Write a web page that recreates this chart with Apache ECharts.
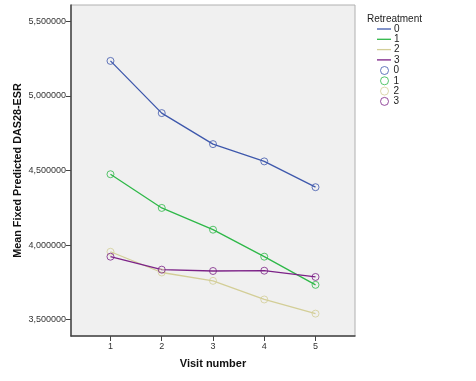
<!DOCTYPE html>
<html><head><meta charset="utf-8">
<script src="https://cdn.jsdelivr.net/npm/echarts@6/dist/echarts.min.js"></script>
<style>html,body{margin:0;padding:0;background:#fff}#c{width:476px;height:381px}</style>
</head><body><div id="c"></div>
<script>
const visits = [1, 2, 3, 4, 5];
const groups = ['0', '1', '2', '3'];
const r0 = [5.235, 4.885, 4.677, 4.561, 4.388];
const r1 = [4.475, 4.249, 4.103, 3.922, 3.733];
const r2 = [3.955, 3.816, 3.760, 3.635, 3.540];
const r3 = [3.922, 3.835, 3.826, 3.828, 3.786];
const yTicks = [3.5, 4.0, 4.5, 5.0, 5.5];
const colors = ['#3e58ac', '#2eb848', '#d3ce97', '#7c2287'];
const values = [r0, r1, r2, r3];
const font = 'Liberation Sans, Arial, sans-serif';

const series = [];
groups.forEach((g, i) => {
  series.push({
    name: g, type: 'line', symbol: 'none',
    data: visits.map((v, k) => [v, values[i][k]]),
    lineStyle: {color: colors[i], width: 1.3},
    itemStyle: {color: colors[i]},
    z: 2
  });
});
groups.forEach((g, i) => {
  series.push({
    name: g + ' ', type: 'scatter', symbol: 'circle', symbolSize: 7,
    data: visits.map((v, k) => [v, values[i][k]]),
    itemStyle: {color: 'rgba(0,0,0,0)', borderColor: colors[i], borderWidth: 1},
    z: 3
  });
});

const legendText = {fontSize: 10, color: '#222', lineHeight: 10, padding: [0, 0, 0, -2]};
const chart = echarts.init(document.getElementById('c'));
chart.setOption({
  animation: false,
  backgroundColor: '#fff',
  textStyle: {fontFamily: font},
  grid: {left: 71, right: 121, top: 5, bottom: 45, show: true,
         backgroundColor: '#f0f0f0', borderColor: '#b0b0b0', borderWidth: 1},
  title: {text: 'Retreatment', left: 362, top: 9,
          textStyle: {fontSize: 10, fontWeight: 'normal', color: '#222', fontFamily: font}},
  legend: [
    {data: groups.map((g, i) => ({name: g, icon: 'rect', itemStyle: {color: colors[i]}})),
     orient: 'vertical', left: 377, top: 24, itemWidth: 14, itemHeight: 1.3,
     itemGap: 0.3, textStyle: legendText, padding: 0},
    {data: groups.map((g, i) => ({name: g + ' ', icon: 'circle',
       itemStyle: {color: 'rgba(0,0,0,0)', borderColor: colors[i], borderWidth: 1}})),
     orient: 'vertical', left: 380, top: 65.5, itemWidth: 8, itemHeight: 8,
     itemGap: 0.3, textStyle: Object.assign({}, legendText, {padding: [0, 0, 0, 0]}), padding: 0,
     formatter: n => n.trim()}
  ],
  xAxis: {
    type: 'value', min: 0.23, max: 5.77,
    name: 'Visit number', nameLocation: 'middle', nameGap: 22,
    nameTextStyle: {fontSize: 11, fontWeight: 'bold', color: '#111', fontFamily: font},
    axisLine: {show: true, lineStyle: {color: '#444', width: 1.5}},
    axisTick: {show: true, length: 5, customValues: visits, lineStyle: {color: '#444'}},
    axisLabel: {customValues: visits, fontSize: 9, color: '#333', margin: 6},
    splitLine: {show: false}
  },
  yAxis: {
    type: 'value', min: 3.39, max: 5.61,
    name: 'Mean Fixed Predicted DAS28-ESR', nameLocation: 'middle', nameGap: 47,
    nameMoveOverlap: false,
    nameTextStyle: {fontSize: 10.8, fontWeight: 'bold', color: '#111', fontFamily: font},
    axisLine: {show: true, lineStyle: {color: '#444', width: 1.5}},
    axisTick: {show: true, length: 5, customValues: yTicks, lineStyle: {color: '#444'}},
    axisLabel: {customValues: yTicks, fontSize: 9, color: '#333', margin: 5,
                formatter: v => v.toFixed(6).replace('.', ',')},
    splitLine: {show: false}
  },
  series: series
});
</script></body></html>
